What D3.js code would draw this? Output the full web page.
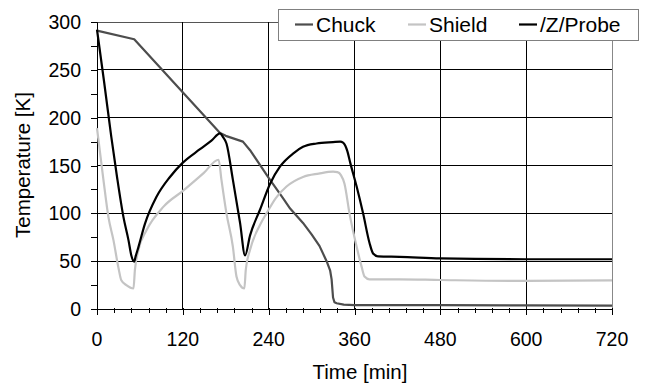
<!DOCTYPE html>
<html>
<head>
<meta charset="utf-8">
<script src="https://cdn.jsdelivr.net/npm/d3@7"></script>
<style>
  body { margin: 0; background: #fff; }
  text { font-family: "Liberation Sans", Arial, sans-serif; fill: #000; }
</style>
</head>
<body>
<div id="chart"></div>
<script>
(function(){

  // values
  var chuckTime  = [0, 52, 172, 180, 204, 214, 240, 260, 270, 288, 300, 311, 321, 326, 328, 330, 332, 335, 345, 360, 480, 600, 720];
  var chuckTemp  = [291, 282, 184, 181, 175, 166, 137, 116, 105, 90, 78, 66, 50, 40, 31, 12, 7, 6, 4.5, 4, 4, 3.8, 3.5];

  var shieldTime = [0, 2, 9, 16, 23, 30, 34, 41, 51, 53, 58, 69, 93, 121, 149, 170, 174, 181, 190, 195, 200, 206, 208, 214, 228, 237, 250, 265, 288, 310, 330, 336, 341, 346, 353, 363, 370, 374, 381, 423, 480, 600, 720];
  var shieldTemp = [189, 177, 135, 96, 72, 43, 30, 25, 21.5, 41, 62, 82, 107, 124, 142, 156, 135, 100, 65, 34, 25, 21.5, 41, 62, 88, 100, 116, 128, 138, 141.5, 143.5, 143, 140, 131, 100, 65, 44, 34, 31, 31, 30.3, 29.3, 30];

  var probeTime  = [0, 10, 20, 28, 37, 44, 48, 52, 54, 58, 67, 83, 102, 120, 144, 160, 172, 176, 181, 190, 200, 207, 214, 228, 242, 256, 275, 288, 307, 330, 340, 344, 347, 350, 354, 363, 372, 381, 386, 393, 423, 480, 600, 720];
  var probeTemp  = [292, 237, 180, 138, 96, 72, 56, 49.5, 55, 65, 89, 117, 138, 153, 167, 176, 183.5, 180, 173, 135, 90, 56, 77, 104, 131, 149, 163, 169.5, 173, 174.5, 175, 174, 171, 165, 153, 128, 100, 69, 58, 55, 54.5, 53, 52, 52];

  var seriesNames = ["Chuck", "Shield", "/Z/Probe"];
  var xTicks = [0, 120, 240, 360, 480, 600, 720];
  var yTicks = [0, 50, 100, 150, 200, 250, 300];

  function zip(ts, vs){
    return ts.map(function(t, i){ return {t: t, v: vs[i]}; });
  }

  var series = [
    {name: seriesNames[0], data: zip(chuckTime, chuckTemp), color: "#4d4d4d", curve: d3.curveLinear},
    {name: seriesNames[1], data: zip(shieldTime, shieldTemp), color: "#c4c4c4", curve: d3.curveMonotoneX},
    {name: seriesNames[2], data: zip(probeTime, probeTemp), color: "#000000", curve: d3.curveMonotoneX}
  ];

  var width = 645, height = 387;
  var left = 97, right = 612, top = 22, bottom = 309;

  var svg = d3.select("#chart").append("svg")
    .attr("width", width)
    .attr("height", height);

  var x = d3.scaleLinear().domain([0, 720]).range([left, right]);
  var y = d3.scaleLinear().domain([0, 300]).range([bottom, top]);

  var grid = svg.append("g").attr("shape-rendering", "crispEdges");

  // horizontal grid
  grid.selectAll("line.h")
    .data(yTicks.slice(1))
    .enter().append("line")
    .attr("x1", left).attr("x2", right)
    .attr("y1", function(d){ return y(d); })
    .attr("y2", function(d){ return y(d); })
    .attr("stroke", function(d){ return d == 300 ? "#555" : "#000"; })
    .attr("stroke-width", 1);

  // vertical grid
  grid.selectAll("line.v")
    .data(xTicks.slice(1))
    .enter().append("line")
    .attr("y1", top).attr("y2", bottom)
    .attr("x1", function(d){ return x(d); })
    .attr("x2", function(d){ return x(d); })
    .attr("stroke", function(d){ return d == 720 ? "#888" : "#000"; })
    .attr("stroke-width", 1);

  // y axis with minor ticks
  var yAxis = svg.append("g")
    .attr("transform", "translate(" + left + ",0)")
    .call(d3.axisLeft(y).tickValues(d3.range(0, 301, 25)).tickSize(6).tickFormat(""));
  yAxis.select(".domain").attr("stroke", "#000");
  yAxis.selectAll("line").attr("shape-rendering", "crispEdges");

  yAxis.selectAll("text.lbl")
    .data(yTicks)
    .enter().append("text")
    .attr("class", "lbl")
    .attr("x", -16)
    .attr("y", function(d){ return y(d); })
    .attr("dy", "0.36em")
    .attr("text-anchor", "end")
    .style("font-size", "19.5px")
    .text(function(d){ return d; });

  // x axis: minor ticks every 24, major every 120
  var xAxis = svg.append("g")
    .attr("transform", "translate(0," + bottom + ")")
    .call(d3.axisBottom(x).tickValues(d3.range(0, 721, 24)).tickSize(4).tickFormat(""));
  xAxis.select(".domain").attr("stroke", "#000");
  xAxis.selectAll(".tick line")
    .attr("shape-rendering", "crispEdges")
    .attr("y1", -1)
    .attr("y2", function(d){ return d % 120 == 0 ? 6 : 4; });

  xAxis.selectAll("text.lbl")
    .data(xTicks)
    .enter().append("text")
    .attr("class", "lbl")
    .attr("x", function(d){ return x(d); })
    .attr("y", 37)
    .attr("text-anchor", "middle")
    .style("font-size", "19.5px")
    .text(function(d){ return d; });

  // lines
  series.forEach(function(s){
    var line = d3.line()
      .x(function(d){ return x(d.t); })
      .y(function(d){ return y(d.v); })
      .curve(s.curve);
    svg.append("path")
      .datum(s.data)
      .attr("d", line)
      .attr("fill", "none")
      .attr("stroke", s.color)
      .attr("stroke-width", 2.2)
      .attr("stroke-linejoin", "round");
  });

  // axis titles
  svg.append("text")
    .attr("transform", "translate(30,165) rotate(-90)")
    .attr("text-anchor", "middle")
    .style("font-size", "20.5px")
    .text("Temperature [K]");

  svg.append("text")
    .attr("x", 360)
    .attr("y", 379)
    .attr("text-anchor", "middle")
    .style("font-size", "20.5px")
    .text("Time [min]");

  // legend
  var legend = svg.append("g");
  legend.append("rect")
    .attr("x", 278.5).attr("y", 9.5)
    .attr("width", 360).attr("height", 31)
    .attr("fill", "#fff")
    .attr("stroke", "#808080")
    .attr("stroke-width", 1);

  var legendX = [295, 408, 519];
  series.forEach(function(s, i){
    legend.append("line")
      .attr("x1", legendX[i]).attr("x2", legendX[i] + 18)
      .attr("y1", 24.5).attr("y2", 24.5)
      .attr("stroke", s.color)
      .attr("stroke-width", 2.2);
    legend.append("text")
      .attr("x", legendX[i] + 21)
      .attr("y", 32)
      .style("font-size", "21px")
      .text(s.name);
  });

})();
</script>
</body>
</html>
